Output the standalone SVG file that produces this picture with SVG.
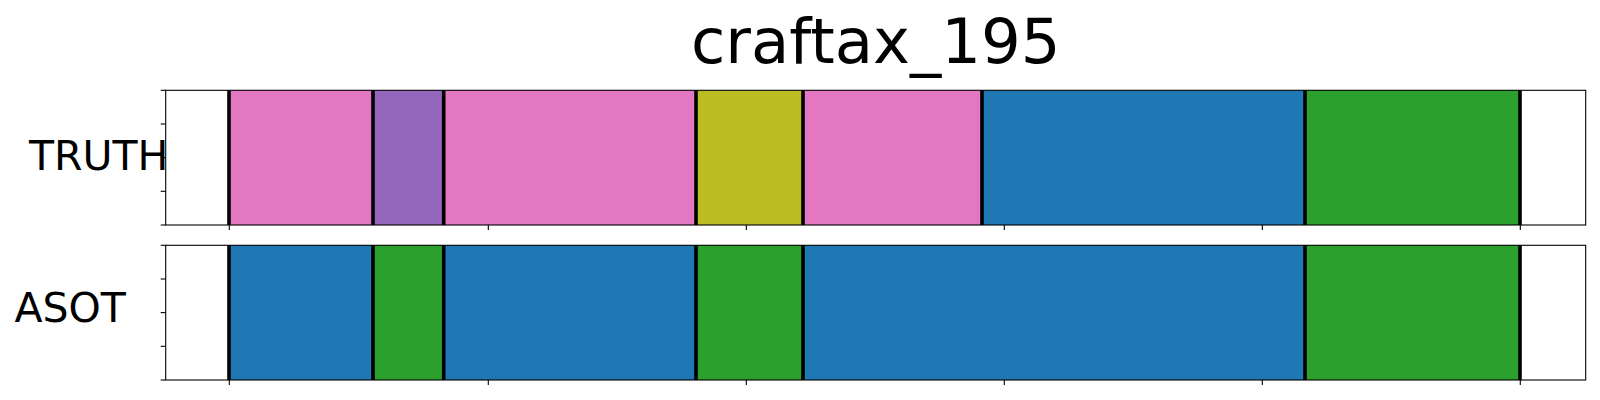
<svg xmlns="http://www.w3.org/2000/svg" width="1600" height="400" viewBox="0 0 1600 400">
<style>
text{font-family:"DejaVu Sans","Liberation Sans",sans-serif;fill:#000}
.frame{fill:none;stroke:#000;stroke-width:1.1}
.tick{stroke:#000;stroke-width:1.1}
.sep{stroke:#000;stroke-width:3.6}
.pink{fill:#e377c2}.purple{fill:#9467bd}.olive{fill:#bcbd22}.blue{fill:#1f77b4}.green{fill:#2ca02c}
</style>
<rect width="1600" height="400" fill="#fff"/>
<text id="title" x="875.7" y="63.3" font-size="62.5" text-anchor="middle">craftax_195</text>
<g id="truth">
<rect class="pink" x="229" y="90.3" width="144" height="134.7"/>
<rect class="purple" x="373" y="90.3" width="70.7" height="134.7"/>
<rect class="pink" x="443.7" y="90.3" width="252.3" height="134.7"/>
<rect class="olive" x="696" y="90.3" width="107" height="134.7"/>
<rect class="pink" x="803" y="90.3" width="179" height="134.7"/>
<rect class="blue" x="982" y="90.3" width="323" height="134.7"/>
<rect class="green" x="1305" y="90.3" width="215" height="134.7"/>
<g>
<line class="sep" x1="229" y1="90.3" x2="229" y2="225"/>
<line class="sep" x1="373" y1="90.3" x2="373" y2="225"/>
<line class="sep" x1="443.7" y1="90.3" x2="443.7" y2="225"/>
<line class="sep" x1="696" y1="90.3" x2="696" y2="225"/>
<line class="sep" x1="803" y1="90.3" x2="803" y2="225"/>
<line class="sep" x1="982" y1="90.3" x2="982" y2="225"/>
<line class="sep" x1="1305" y1="90.3" x2="1305" y2="225"/>
<line class="sep" x1="1520" y1="90.3" x2="1520" y2="225"/>
</g>
<rect class="frame" x="165.7" y="90.3" width="1420" height="134.7"/>
<g>
<line class="tick" x1="160.7" y1="90.3" x2="165.7" y2="90.3"/>
<line class="tick" x1="160.7" y1="124" x2="165.7" y2="124"/>
<line class="tick" x1="160.7" y1="157.6" x2="165.7" y2="157.6"/>
<line class="tick" x1="160.7" y1="191.3" x2="165.7" y2="191.3"/>
<line class="tick" x1="160.7" y1="225" x2="165.7" y2="225"/>
<line class="tick" x1="229.3" y1="225" x2="229.3" y2="230"/>
<line class="tick" x1="488.3" y1="225" x2="488.3" y2="230"/>
<line class="tick" x1="746.3" y1="225" x2="746.3" y2="230"/>
<line class="tick" x1="1004.3" y1="225" x2="1004.3" y2="230"/>
<line class="tick" x1="1262.3" y1="225" x2="1262.3" y2="230"/>
<line class="tick" x1="1520.3" y1="225" x2="1520.3" y2="230"/>
</g>
<text x="29" y="170" font-size="41">TRUTH</text>
</g>
<g id="asot">
<rect class="blue" x="229" y="245.3" width="144" height="134.7"/>
<rect class="green" x="373" y="245.3" width="70.7" height="134.7"/>
<rect class="blue" x="443.7" y="245.3" width="252.3" height="134.7"/>
<rect class="green" x="696" y="245.3" width="107" height="134.7"/>
<rect class="blue" x="803" y="245.3" width="502" height="134.7"/>
<rect class="green" x="1305" y="245.3" width="215" height="134.7"/>
<g>
<line class="sep" x1="229" y1="245.3" x2="229" y2="380"/>
<line class="sep" x1="373" y1="245.3" x2="373" y2="380"/>
<line class="sep" x1="443.7" y1="245.3" x2="443.7" y2="380"/>
<line class="sep" x1="696" y1="245.3" x2="696" y2="380"/>
<line class="sep" x1="803" y1="245.3" x2="803" y2="380"/>
<line class="sep" x1="1305" y1="245.3" x2="1305" y2="380"/>
<line class="sep" x1="1520" y1="245.3" x2="1520" y2="380"/>
</g>
<rect class="frame" x="165.7" y="245.3" width="1420" height="134.7"/>
<g>
<line class="tick" x1="160.7" y1="245.3" x2="165.7" y2="245.3"/>
<line class="tick" x1="160.7" y1="279" x2="165.7" y2="279"/>
<line class="tick" x1="160.7" y1="312.6" x2="165.7" y2="312.6"/>
<line class="tick" x1="160.7" y1="346.3" x2="165.7" y2="346.3"/>
<line class="tick" x1="160.7" y1="380" x2="165.7" y2="380"/>
<line class="tick" x1="229.3" y1="380" x2="229.3" y2="385"/>
<line class="tick" x1="488.3" y1="380" x2="488.3" y2="385"/>
<line class="tick" x1="746.3" y1="380" x2="746.3" y2="385"/>
<line class="tick" x1="1004.3" y1="380" x2="1004.3" y2="385"/>
<line class="tick" x1="1262.3" y1="380" x2="1262.3" y2="385"/>
<line class="tick" x1="1520.3" y1="380" x2="1520.3" y2="385"/>
</g>
<text x="14.5" y="322.3" font-size="41">ASOT</text>
</g>
</svg>
